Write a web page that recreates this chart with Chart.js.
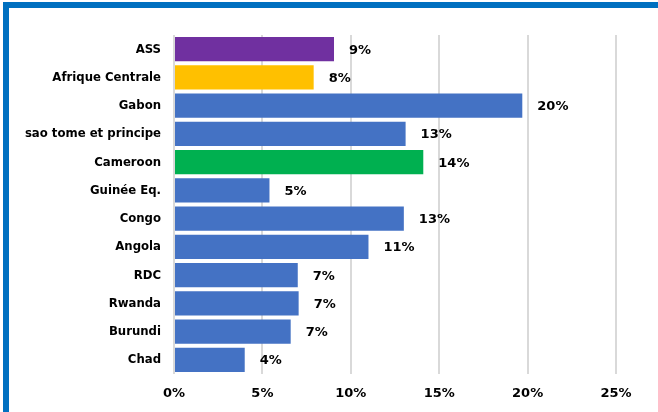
<!DOCTYPE html>
<html>
<head>
<meta charset="utf-8">
<script src="https://cdn.jsdelivr.net/npm/chart.js@4/dist/chart.umd.min.js"></script>
<style>
    html, body { margin: 0; padding: 0; background: #fff; }
    #wrap { position: relative; width: 658px; height: 412px; overflow: hidden; }
    #frame {
        position: absolute; left: 3px; top: 2px; width: 700px; height: 500px;
        border-left: 6px solid #0070C0; border-top: 6px solid #0070C0;
        box-sizing: border-box;
    }
    #chart { position: absolute; left: 0; top: 0; }
</style>
</head>
<body>
<div id="wrap">
    <div id="frame"></div>
    <canvas id="chart" width="658" height="412"></canvas>
</div>
<script>
const categories = ['ASS', 'Afrique Centrale', 'Gabon', 'sao tome et principe', 'Cameroon',
    'Guinée Eq.', 'Congo', 'Angola', 'RDC', 'Rwanda', 'Burundi', 'Chad'];
const values = [9.05, 7.9, 19.7, 13.1, 14.1, 5.4, 13.0, 11.0, 7.0, 7.05, 6.6, 4.0];
const barColors = ['#7030A0', '#FFC000', '#4472C4', '#4472C4', '#00B050', '#4472C4',
    '#4472C4', '#4472C4', '#4472C4', '#4472C4', '#4472C4', '#4472C4'];
const xTicks = [0, 5, 10, 15, 20, 25];

const FONT = '"DejaVu Sans", Verdana, sans-serif';
const FONT_COND = '"DejaVu Sans Condensed", "DejaVu Sans", sans-serif';

// value labels at the end of each bar
const barLabels = {
    id: 'barLabels',
    afterDatasetsDraw(chart) {
        const ctx = chart.ctx;
        const meta = chart.getDatasetMeta(0);
        ctx.save();
        ctx.font = 'bold 13px ' + FONT;
        ctx.fillStyle = '#000';
        ctx.textBaseline = 'middle';
        ctx.textAlign = 'left';
        meta.data.forEach((bar, i) => {
            ctx.fillText(Math.round(values[i]) + '%', bar.x + 15, bar.y + 1);
        });
        ctx.restore();
    }
};

new Chart(document.getElementById('chart'), {
    type: 'bar',
    data: {
        labels: categories,
        datasets: [{
            data: values,
            backgroundColor: barColors,
            barPercentage: 0.86,
            categoryPercentage: 1
        }]
    },
    options: {
        indexAxis: 'y',
        responsive: false,
        animation: false,
        layout: { padding: { top: 35, right: 42, left: 0, bottom: 0 } },
        plugins: {
            legend: { display: false },
            tooltip: { enabled: false }
        },
        scales: {
            x: {
                min: 0,
                max: 25,
                afterBuildTicks: axis => { axis.ticks = xTicks.map(v => ({ value: v })); },
                afterFit: axis => { axis.height = 412 - 374; },
                grid: { color: '#d9d9d9', lineWidth: 2, drawTicks: false },
                border: { display: false },
                ticks: {
                    color: '#000',
                    padding: 12,
                    font: { family: FONT, size: 13, weight: 'bold' },
                    callback: v => v + '%'
                }
            },
            y: {
                afterFit: axis => { axis.width = 174; },
                grid: { display: false, drawTicks: false },
                border: { display: false },
                ticks: {
                    color: '#000',
                    padding: 13,
                    font: { family: FONT_COND, size: 13, weight: 'bold' }
                }
            }
        }
    },
    plugins: [barLabels]
});
</script>
</body>
</html>
